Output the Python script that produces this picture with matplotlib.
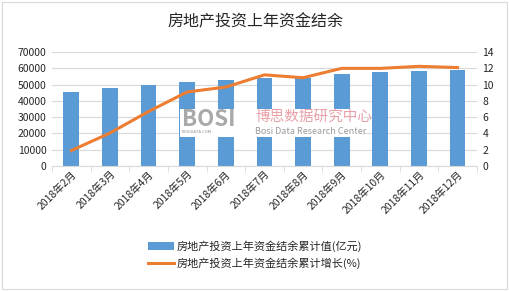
import matplotlib.pyplot as plt
from matplotlib.patches import Rectangle

plt.rcParams['font.family'] = ['Noto Sans CJK SC', 'DejaVu Sans']

months = ['2018年2月', '2018年3月', '2018年4月', '2018年5月', '2018年6月', '2018年7月',
          '2018年8月', '2018年9月', '2018年10月', '2018年11月', '2018年12月']
values = [45600, 47900, 49700, 51600, 52800, 54200, 53800, 56500, 57700, 58300, 59100]
growth = [1.9, 4.05, 6.7, 9.1, 9.7, 11.2, 10.85, 12.0, 12.0, 12.25, 12.1]

bar_label = '房地产投资上年资金结余累计值(亿元)'
line_label = '房地产投资上年资金结余累计增长(%)'

fig = plt.figure(figsize=(5.1, 2.91), dpi=100)
fig.patches.append(Rectangle((0.004, 0.007), 0.99, 0.986, transform=fig.transFigure,
                             fill=False, edgecolor='#d9d9d9', linewidth=0.8))
ax = fig.add_axes([0.102, 0.4296, 0.833, 0.3914])
ax2 = ax.twinx()

x = list(range(len(months)))
bars = ax.bar(x, values, width=0.41, color='#5b9bd5', zorder=2, label=bar_label)
line, = ax2.plot(x, growth, color='#ed7d31', linewidth=2.2, zorder=3, label=line_label)

ax.set_ylim(0, 70000)
ax.set_yticks(range(0, 70001, 10000))
ax2.set_ylim(0, 14)
ax2.set_yticks(range(0, 15, 2))
ax.set_xlim(-0.5, len(months) - 0.5)
ax.yaxis.grid(True, color='#d9d9d9', linewidth=0.8, zorder=0)
ax.set_axisbelow(True)

for a in (ax, ax2):
    for s in a.spines.values():
        s.set_visible(False)
    a.tick_params(axis='y', length=0, labelsize=7.5, colors='#262626', pad=4)
ax.spines['bottom'].set_visible(True)
ax.spines['bottom'].set_color('#d9d9d9')
ax.set_xticks([i - 0.5 for i in range(len(months) + 1)], minor=True)
ax.tick_params(axis='x', which='minor', length=4, color='#d9d9d9')
ax.tick_params(axis='x', which='major', length=0, labelsize=7.5, colors='#262626', pad=2)
ax.set_xticks(x)
ax.set_xticklabels(months, rotation=45, ha='right', rotation_mode='anchor')

fig.text(0.5, 0.925, '房地产投资上年资金结余', ha='center', va='center', fontsize=11.5, color='#262626')

# watermark on a white patch over the bars
fig.patches.append(Rectangle((0.352, 1 - 137 / 291), 0.36, 28 / 291, transform=fig.transFigure,
                             facecolor='white', edgecolor='none', zorder=4))
fig.text(0.356, 0.59, 'BOSI', fontsize=16, fontweight='bold', color='#8c8c8c', alpha=0.75,
         ha='left', va='center', zorder=5)
fig.text(0.356, 0.545, 'BOSIDATA.COM', fontsize=3, color='#8c8c8c', ha='left', va='center', zorder=5)
fig.text(0.5, 0.6, '博思数据研究中心', fontsize=10.5, color='#e8a0a8',
         ha='left', va='center', zorder=5)
fig.text(0.5, 0.548, 'Bosi Data Research Center', fontsize=6.5, color='#9a9a9a',
         ha='left', va='center', zorder=5)

fig.legend(handles=[bars, line], loc='center', bbox_to_anchor=(0.5, 0.125), ncol=1,
           frameon=False, fontsize=8, labelcolor='#262626', handlelength=2.4,
           handletextpad=0.2, labelspacing=0.5)

fig.savefig('out.png', dpi=100, facecolor='white')
